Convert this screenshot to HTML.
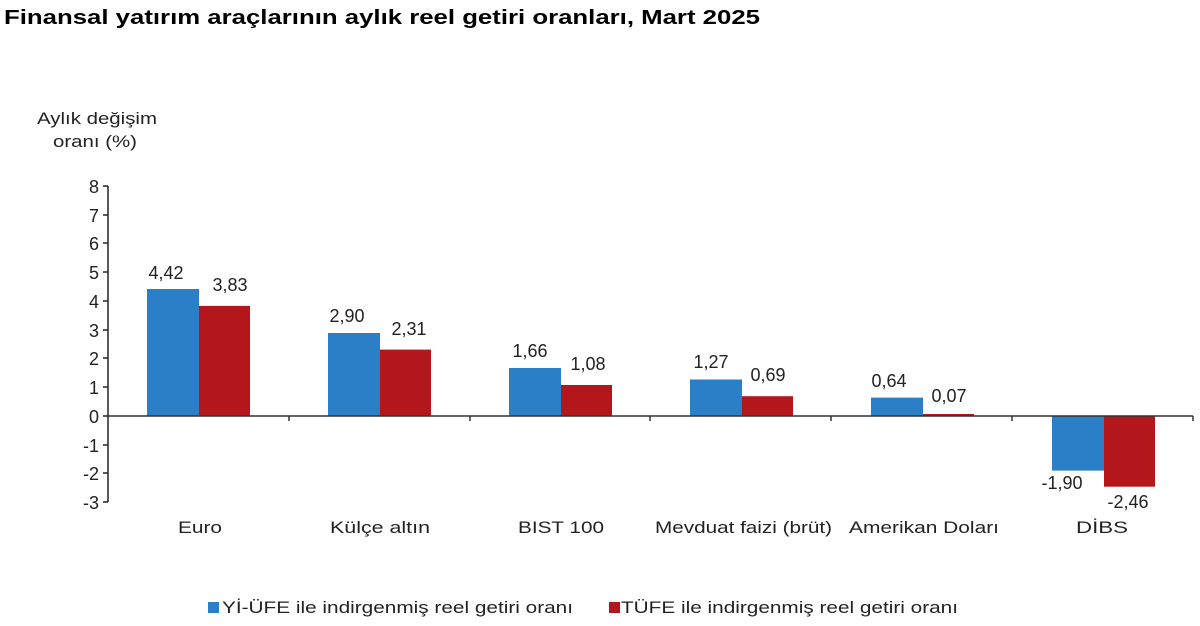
<!DOCTYPE html>
<html><head><meta charset="utf-8"><style>
body{margin:0;background:#fff;}
svg{display:block;font-family:"Liberation Sans",Arial,sans-serif;}
</style></head><body>
<svg width="1200" height="626" viewBox="0 0 1200 626" xmlns="http://www.w3.org/2000/svg">
<text x="4" y="24" font-size="20" font-weight="bold" fill="#000" textLength="756" lengthAdjust="spacingAndGlyphs">Finansal yatırım araçlarının aylık reel getiri oranları, Mart 2025</text>
<text x="37" y="124" font-size="17" fill="#222" textLength="120" lengthAdjust="spacingAndGlyphs">Aylık değişim</text>
<text x="53" y="147" font-size="17" fill="#222" textLength="84" lengthAdjust="spacingAndGlyphs">oranı (%)</text>
<g font-size="18" fill="#222" text-anchor="end">
<text x="99" y="193">8</text><text x="99" y="222">7</text><text x="99" y="250">6</text>
<text x="99" y="279">5</text><text x="99" y="308">4</text><text x="99" y="337">3</text>
<text x="99" y="365">2</text><text x="99" y="394">1</text><text x="99" y="423">0</text>
<text x="99" y="452">-1</text><text x="99" y="480">-2</text><text x="99" y="509">-3</text>
</g>
<g stroke="#222" stroke-width="1.5">
<line x1="108" y1="186" x2="108" y2="502"/>
<line x1="103" y1="186" x2="108" y2="186"/><line x1="103" y1="215" x2="108" y2="215"/>
<line x1="103" y1="243" x2="108" y2="243"/><line x1="103" y1="272" x2="108" y2="272"/>
<line x1="103" y1="301" x2="108" y2="301"/><line x1="103" y1="330" x2="108" y2="330"/>
<line x1="103" y1="358" x2="108" y2="358"/><line x1="103" y1="387" x2="108" y2="387"/>
<line x1="103" y1="416" x2="108" y2="416"/><line x1="103" y1="445" x2="108" y2="445"/>
<line x1="103" y1="473" x2="108" y2="473"/><line x1="103" y1="502" x2="108" y2="502"/>
</g>
<g fill="#2a7fc6">
<rect x="147" y="289" width="52" height="127"/>
<rect x="328" y="333" width="52" height="83"/>
<rect x="509" y="368" width="52" height="48"/>
<rect x="690" y="379.5" width="52" height="36.5"/>
<rect x="871" y="397.6" width="52" height="18.4"/>
<rect x="1052" y="416" width="52" height="54.6"/>
</g>
<g fill="#b3171c">
<rect x="199" y="305.9" width="51" height="110.1"/>
<rect x="380" y="349.6" width="51" height="66.4"/>
<rect x="561" y="385" width="51" height="31"/>
<rect x="742" y="396.2" width="51" height="19.8"/>
<rect x="923" y="414" width="51" height="2"/>
<rect x="1104" y="416" width="51" height="70.7"/>
</g>
<g stroke="#333" stroke-width="1.5">
<line x1="108" y1="416" x2="1193" y2="416"/>
<line x1="289" y1="416" x2="289" y2="421"/><line x1="470" y1="416" x2="470" y2="421"/>
<line x1="650" y1="416" x2="650" y2="421"/><line x1="831" y1="416" x2="831" y2="421"/>
<line x1="1012" y1="416" x2="1012" y2="421"/><line x1="1193" y1="416" x2="1193" y2="421"/>
</g>
<g font-size="18" fill="#222" text-anchor="middle">
<text x="166" y="279">4,42</text><text x="230" y="291">3,83</text>
<text x="347" y="322">2,90</text><text x="409" y="335">2,31</text>
<text x="530" y="357">1,66</text><text x="588" y="370">1,08</text>
<text x="711" y="368">1,27</text><text x="768" y="381">0,69</text>
<text x="889" y="387">0,64</text><text x="949" y="402">0,07</text>
<text x="1062" y="489">-1,90</text><text x="1128" y="508">-2,46</text>
</g>
<g font-size="17" fill="#222">
<text x="178" y="533" textLength="44" lengthAdjust="spacingAndGlyphs">Euro</text>
<text x="330" y="533" textLength="100" lengthAdjust="spacingAndGlyphs">Külçe altın</text>
<text x="518" y="533" textLength="86" lengthAdjust="spacingAndGlyphs">BIST 100</text>
<text x="655" y="533" textLength="177" lengthAdjust="spacingAndGlyphs">Mevduat faizi (brüt)</text>
<text x="849" y="533" textLength="150" lengthAdjust="spacingAndGlyphs">Amerikan Doları</text>
<text x="1076" y="533" textLength="52" lengthAdjust="spacingAndGlyphs">DİBS</text>
</g>
<rect x="208" y="602" width="11" height="11" fill="#2a7fc6"/>
<text x="222" y="613" font-size="17" fill="#222" textLength="351" lengthAdjust="spacingAndGlyphs">Yİ-ÜFE ile indirgenmiş reel getiri oranı</text>
<rect x="609" y="602" width="11" height="11" fill="#b3171c"/>
<text x="621" y="613" font-size="17" fill="#222" textLength="337" lengthAdjust="spacingAndGlyphs">TÜFE ile indirgenmiş reel getiri oranı</text>
</svg>
</body></html>
